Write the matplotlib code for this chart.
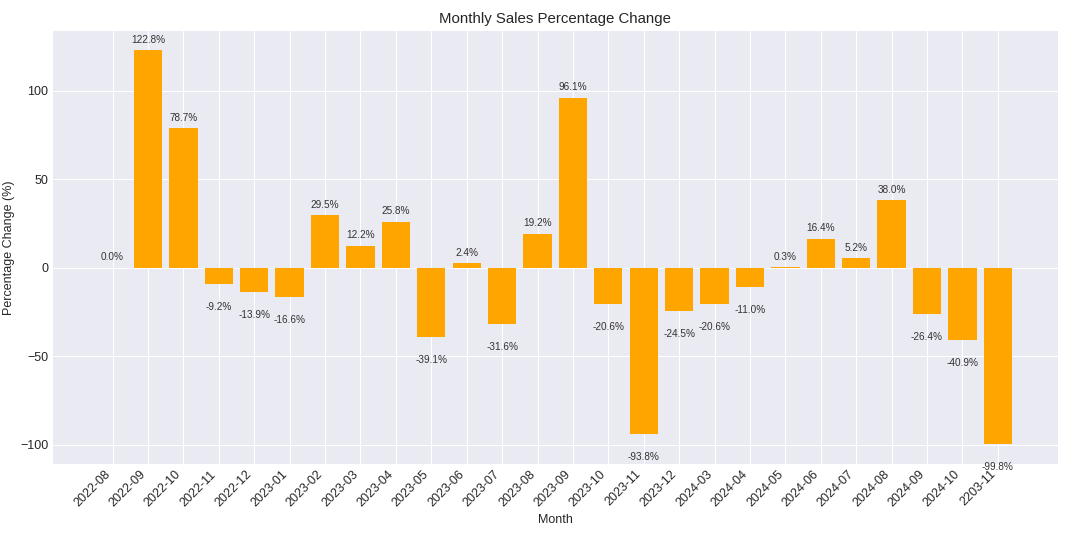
import matplotlib
matplotlib.use("Agg")
import matplotlib.pyplot as plt

months = ["2022-08", "2022-09", "2022-10", "2022-11", "2022-12", "2023-01", "2023-02",
          "2023-03", "2023-04", "2023-05", "2023-06", "2023-07", "2023-08", "2023-09",
          "2023-10", "2023-11", "2023-12", "2024-03", "2024-04", "2024-05", "2024-06",
          "2024-07", "2024-08", "2024-09", "2024-10", "2203-11"]
pct_change = [0.0, 122.8, 78.7, -9.2, -13.9, -16.6, 29.5, 12.2, 25.8, -39.1, 2.4, -31.6,
              19.2, 96.1, -20.6, -93.8, -24.5, -20.6, -11.0, 0.3, 16.4, 5.2, 38.0, -26.4,
              -40.9, -99.8]

plt.style.use("seaborn-v0_8-darkgrid")
plt.rcParams['font.family'] = ['sans-serif']
plt.rcParams['font.sans-serif'] = ['Liberation Sans', 'DejaVu Sans']

fig, ax = plt.subplots(figsize=(1076/90, 540/90), dpi=90)
fig.subplots_adjust(left=0.049, right=0.983, top=0.943, bottom=0.141)

x = list(range(len(months)))
bars = ax.bar(x, pct_change, color="#FFA500")

for xi, v in zip(x, pct_change):
    if v >= 0:
        ax.annotate(f"{v:.1f}%", (xi, v), xytext=(0, 4.5), textcoords="offset points",
                    ha="center", va="bottom", fontsize=8, color="#333333")
    else:
        ax.annotate(f"{v:.1f}%", (xi, v), xytext=(0, -14.5), textcoords="offset points",
                    ha="center", va="top", fontsize=8, color="#333333")

ax.set_xticks(x)
ax.set_xticklabels(months, rotation=45, ha="right", fontsize=10)
ax.tick_params(axis="y", labelsize=10)
ax.set_title("Monthly Sales Percentage Change", fontsize=12)
ax.set_xlabel("Month", fontsize=10)
ax.set_ylabel("Percentage Change (%)", fontsize=10)

fig.savefig("out.png", dpi=90)
